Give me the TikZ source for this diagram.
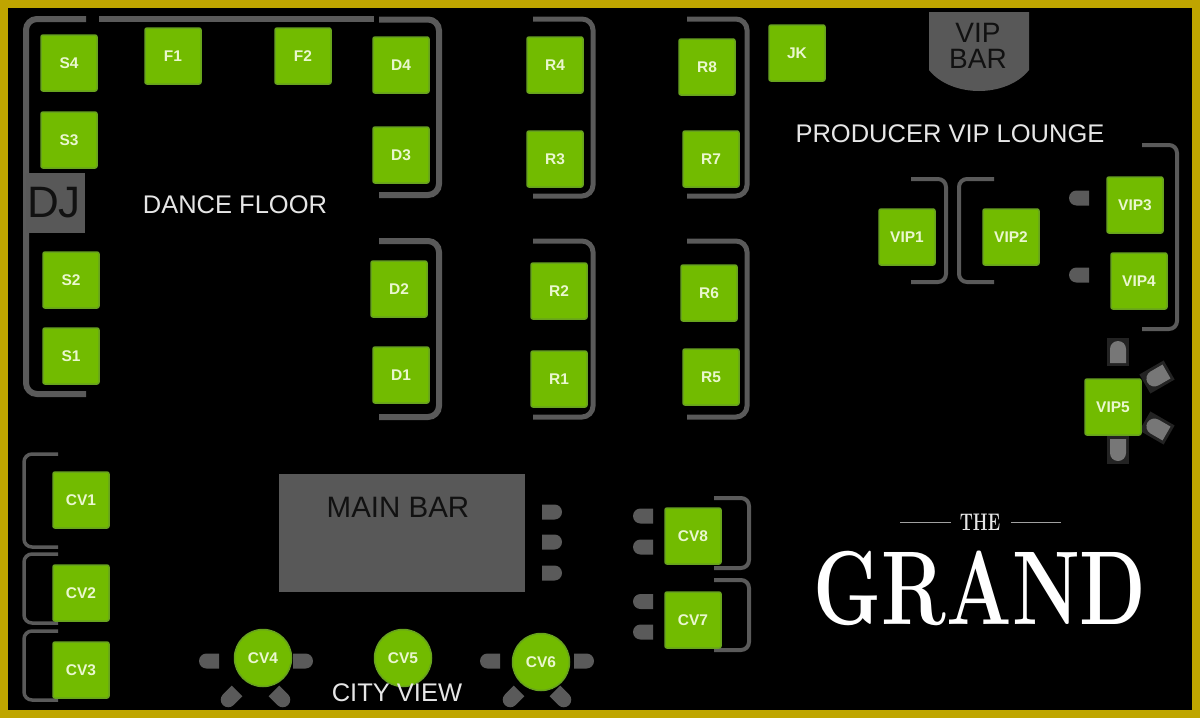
\documentclass[tikz,border=0pt]{standalone}
\usepackage{fontspec}
\newfontfamily\sansf{Liberation Sans}
\definecolor{gold}{HTML}{BFA500}
\definecolor{wallc}{HTML}{5A5A5A}
\definecolor{barc}{HTML}{585858}
\definecolor{greenf}{HTML}{72BB00}
\definecolor{greend}{HTML}{68A31E}
\definecolor{labelc}{HTML}{EAF7CF}
\definecolor{darkt}{HTML}{111111}
\definecolor{shadowc}{HTML}{232323}
\definecolor{seatl}{HTML}{777777}
\definecolor{floorc}{HTML}{E6E6E6}
\tikzset{
  x=1pt,y=-1pt,
  wall/.style={draw=wallc,line width=6pt,rounded corners=11pt,line cap=butt},
  wallthin/.style={draw=wallc,line width=4pt,rounded corners=8pt,line cap=butt},
  table/.style={draw=greend,line width=1.5pt,fill=greenf,rounded corners=2pt,minimum size=56pt,inner sep=0pt,text=labelc,font=\sansf\bfseries\fontsize{15.5}{17}\selectfont},
  roundtable/.style={draw=greend,line width=1.5pt,fill=greenf,circle,minimum size=57pt,inner sep=0pt,text=labelc,font=\sansf\bfseries\fontsize{15.5}{17}\selectfont},
  floortext/.style={text=floorc,inner sep=0pt,font=\sansf\fontsize{25.5}{28}\selectfont},
  bartext/.style={text=darkt,inner sep=0pt,align=center,font=\sansf\fontsize{29.5}{25}\selectfont},
  seat/.pic={\fill[wallc] (-10,-7.5) -- (2.5,-7.5) arc[start angle=-90,end angle=90,radius=7.5] -- (-10,7.5) -- cycle;},
  boxseat/.pic={\fill[shadowc] (-14,-11) rectangle (14,11);
    \fill[seatl] (-11,-8) -- (3,-8) arc[start angle=-90,end angle=90,radius=8] -- (-11,8) -- cycle;}
}
\begin{document}
\begin{tikzpicture}
\useasboundingbox (0,0) rectangle (1200,718);
\fill[black] (0,0) rectangle (1200,718);
% walls
\draw[wall] (86,19) -- (26,19) -- (26,394) -- (86,394);
\draw[wall] (99,19) -- (374,19);
\draw[wall] (379,19.5) -- (439,19.5) -- (439,195) -- (379,195);
\draw[wall] (379,241) -- (439,241) -- (439,417) -- (379,417);
\draw[wall,line width=5pt] (533,19) -- (593,19) -- (593,196) -- (533,196);
\draw[wall,line width=5pt] (533,241) -- (593,241) -- (593,417) -- (533,417);
\draw[wall,line width=5pt] (687,19) -- (747,19) -- (747,196) -- (687,196);
\draw[wall,line width=5pt] (687,241) -- (747,241) -- (747,417) -- (687,417);
\draw[wallthin] (911,179) -- (946,179) -- (946,282) -- (911,282);
\draw[wallthin] (994,179) -- (959,179) -- (959,282) -- (994,282);
\draw[wallthin] (1142,145) -- (1177,145) -- (1177,329) -- (1142,329);
\draw[wallthin,line width=3.5pt] (58,454) -- (24,454) -- (24,547) -- (58,547);
\draw[wallthin,line width=3.5pt] (58,554) -- (24,554) -- (24,623) -- (58,623);
\draw[wallthin,line width=3.5pt] (58,631) -- (24,631) -- (24,700) -- (58,700);
\draw[wallthin] (714,498) -- (749,498) -- (749,568) -- (714,568);
\draw[wallthin] (714,580) -- (749,580) -- (749,650) -- (714,650);
% bars
\fill[barc] (26,173) rectangle (85,233);
\node[bartext,font=\sansf\fontsize{44}{46}\selectfont,text=darkt] (dj) at (54,203) {DJ};
\fill[barc] (929,12) -- (929,70) .. controls (940,84) and (960,91) .. (979,91) .. controls (998,91) and (1018,84) .. (1029,70) -- (1029,12) -- cycle;
\node[bartext,font=\sansf\fontsize{28}{26}\selectfont] (vipbar) at (978,46) {VIP\\BAR};
\fill[barc] (279,474) rectangle (525,592);
\node[bartext] (mainbar) at (398,507) {MAIN BAR};
% seats
\pic at (552,512) {seat};
\pic at (552,542) {seat};
\pic at (552,573) {seat};
\pic[rotate=180] at (643,516) {seat};
\pic[rotate=180] at (643,547) {seat};
\pic[rotate=180] at (643,601.5) {seat};
\pic[rotate=180] at (643,632) {seat};
\pic[rotate=180] at (1079,198) {seat};
\pic[rotate=180] at (1079,275) {seat};
\pic[rotate=90] at (1118,352) {boxseat};
\pic[rotate=270] at (1118,450) {boxseat};
\pic[rotate=210] at (1157,377) {boxseat};
\pic[rotate=150] at (1157,428) {boxseat};
\pic[rotate=180] at (209,661) {seat};
\pic at (303,661) {seat};
\pic[rotate=225] at (230,698) {seat};
\pic[rotate=-45] at (281,698) {seat};
\pic[rotate=180] at (490,661) {seat};
\pic at (584,661) {seat};
\pic[rotate=225] at (512,698) {seat};
\pic[rotate=-45] at (562,698) {seat};
% tables
\node[table] (S4) at (69,63) {S4};
\node[table] (S3) at (69,140) {S3};
\node[table] (S2) at (71,280) {S2};
\node[table] (S1) at (71,356) {S1};
\node[table] (F1) at (173,56) {F1};
\node[table] (F2) at (303,56) {F2};
\node[table] (D4) at (401,65) {D4};
\node[table] (D3) at (401,155) {D3};
\node[table] (D2) at (399,289) {D2};
\node[table] (D1) at (401,375) {D1};
\node[table] (R4) at (555,65) {R4};
\node[table] (R3) at (555,159) {R3};
\node[table] (R2) at (559,291) {R2};
\node[table] (R1) at (559,379) {R1};
\node[table] (R8) at (707,67) {R8};
\node[table] (R7) at (711,159) {R7};
\node[table] (R6) at (709,293) {R6};
\node[table] (R5) at (711,377) {R5};
\node[table] (JK) at (797,53) {JK};
\node[table] (VIP1) at (907,237) {VIP1};
\node[table] (VIP2) at (1011,237) {VIP2};
\node[table] (VIP3) at (1135,205) {VIP3};
\node[table] (VIP4) at (1139,281) {VIP4};
\node[table] (VIP5) at (1113,407) {VIP5};
\node[table] (CV1) at (81,500) {CV1};
\node[table] (CV2) at (81,593) {CV2};
\node[table] (CV3) at (81,670) {CV3};
\node[roundtable] (CV4) at (263,658) {CV4};
\node[roundtable] (CV5) at (403,658) {CV5};
\node[roundtable] (CV6) at (541,662) {CV6};
\node[table] (CV7) at (693,620) {CV7};
\node[table] (CV8) at (693,536) {CV8};
% area labels
\node[floortext] (dance) at (235,205) {DANCE FLOOR};
\node[floortext] (lounge) at (950,134) {PRODUCER VIP LOUNGE};
\node[floortext] (city) at (397,693) {CITY VIEW};
% logo
\node[inner sep=0pt,text=floorc,font=\rmfamily\bfseries\fontsize{24}{27}\selectfont,xscale=.7,transform shape] (the) at (980,522) {THE};
\draw[floorc!70!black,line width=1pt] (900,522) -- (951,522);
\draw[floorc!70!black,line width=1pt] (1011,522) -- (1061,522);
\node[inner sep=0pt,text=white,font=\rmfamily\bfseries\fontsize{105}{110}\selectfont,xscale=.735,transform shape] (grand) at (980,588) {GRAND};
% frame
\draw[gold,line width=8pt] (4,4) rectangle (1196,714);
\end{tikzpicture}
\end{document}
